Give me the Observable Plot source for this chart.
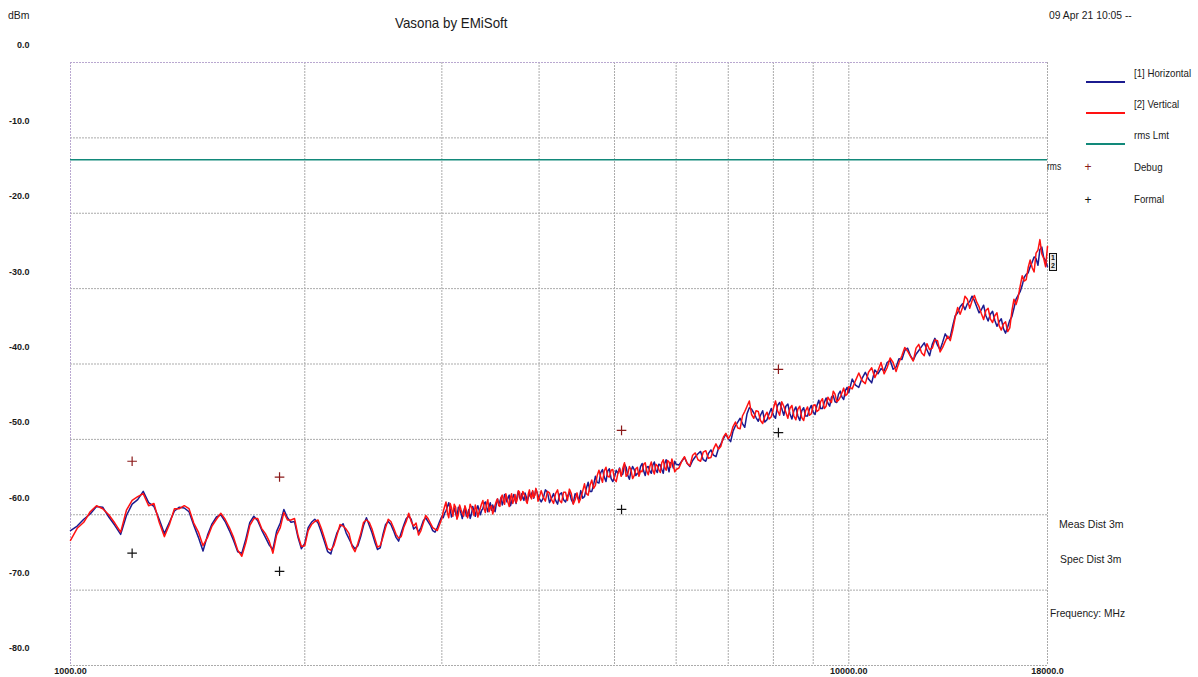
<!DOCTYPE html>
<html>
<head>
<meta charset="utf-8">
<script src="https://cdn.jsdelivr.net/npm/d3@7"></script>
<script src="https://cdn.jsdelivr.net/npm/@observablehq/plot@0.6"></script>
<style>
  body { margin: 0; background: #fff; }
  #wrap {
    position: relative; width: 1198px; height: 677px; overflow: hidden;
    font-family: "Liberation Sans Narrow", "Arial Narrow", "Liberation Sans", Arial, sans-serif;
    color: #1a1a1a;
  }
  #wrap svg { position: absolute; left: 0; top: 0; }
  .t { position: absolute; white-space: nowrap; line-height: 1; transform-origin: 0 50%; }
  .key { position: absolute; height: 2px; width: 39px; left: 1086px; }
  .plus { position: absolute; font-size: 12px; line-height: 1; transform: translate(-50%, -50%); }
  .tag { position: absolute; left: 1049px; top: 253px; width: 6px; height: 16px; border: 1px solid #111;
         font-size: 7px; line-height: 8px; text-align: center; font-weight: bold; color: #111; background: #e8e8e8; }
</style>
</head>
<body>
<div id="wrap"></div>
<script>
// Sweep frequencies (MHz)
const freqMHz = [
  1000,1020,1040,1060,1080,1100,1120,1140,1160,1180,1200,1220,1240,1260,1280,1300,1320,1340,1360,1380,
  1400,1420,1440,1460,1480,1500,1520,1540,1560,1580,1600,1620,1640,1660,1680,1700,1720,1740,1760,1780,
  1800,1820,1840,1860,1880,1900,1920,1940,1960,1980,2000,
  2020,2040,2060,2080,2100,2120,2140,2160,2180,2200,2220,2240,2260,2280,2300,2320,2340,2360,2380,2400,
  2420,2440,2460,2480,2500,2520,2540,2560,2580,2600,2620,2640,2660,2680,2700,2720,2740,2760,2780,2800,
  2820,2840,2860,2880,2900,2920,2940,2960,2980,3000,
  3012,3025,3037,3050,3062,3075,3087,3100,3112,3125,3137,3150,3162,3175,3187,3200,3212,3225,3237,3250,
  3262,3275,3287,3300,3312,3325,3337,3350,3362,3375,3387,3400,3412,3425,3437,3450,3462,3475,3487,3500,
  3512,3525,3537,3550,3562,3575,3587,3600,3612,3625,3637,3650,3662,3675,3687,3700,3712,3725,3737,3750,
  3762,3775,3787,3800,3812,3825,3837,3850,3862,3875,3887,3900,3912,3925,3937,3950,3962,3975,3987,4000,
  4025,4050,4075,4100,4125,4150,4175,4200,4225,4250,4275,4300,4325,4350,4375,4400,4425,4450,4475,4500,
  4525,4550,4575,4600,4625,4650,4675,4700,4725,4750,4775,4800,4825,4850,4875,4900,4925,4950,4975,5000,
  5025,5050,5075,5100,5125,5150,5175,5200,5225,5250,5275,5300,5325,5350,5375,5400,5425,5450,5475,5500,
  5525,5550,5575,5600,5625,5650,5675,5700,5725,5750,5775,5800,5825,5850,5875,5900,5925,5950,5975,6000,
  6050,6100,6150,6200,6250,6300,6350,6400,6450,6500,6550,6600,6650,6700,6750,6800,6850,6900,6950,7000,
  7050,7100,7150,7200,7250,7300,7350,7400,7450,7500,7550,7600,7650,7700,7750,7800,7850,7900,7950,8000,
  8050,8100,8150,8200,8250,8300,8350,8400,8450,8500,8550,8600,8650,8700,8750,8800,8850,8900,8950,9000,
  9050,9100,9150,9200,9250,9300,9350,9400,9450,9500,9550,9600,9650,9700,9750,9800,9850,9900,9950,10000,
  10100,10200,10300,10400,10500,10600,10700,10800,10900,11000,11100,11200,11300,11400,11500,11600,11700,11800,11900,12000,
  12100,12200,12300,12400,12500,12600,12700,12800,12900,13000,13100,13200,13300,13400,13500,13600,13700,13800,13900,14000,
  14100,14200,14300,14400,14500,14600,14700,14800,14900,15000,15100,15200,15300,15400,15500,15600,15700,15800,15900,16000,
  16100,16200,16300,16400,16500,16600,16700,16800,16900,17000,17100,17200,17300,17400,17500,17600,17700,17800,17900,18000
];

// [1] Horizontal polarisation (dBm)
const horizontal = [
  -62.1,-61.5,-60.6,-59.9,-58.9,-59.0,-60.3,-61.4,-62.6,-60.1,-58.6,-58.0,-56.9,-58.4,-58.9,-60.6,-62.5,-61.0,-59.5,-59.0,
  -59.1,-59.6,-61.4,-63.0,-64.8,-62.7,-61.2,-60.3,-60.0,-60.9,-62.1,-63.4,-64.9,-65.1,-63.2,-61.0,-60.2,-60.8,-62.0,-63.0,
  -64.0,-64.6,-62.2,-61.1,-59.3,-60.4,-61.0,-60.9,-63.0,-64.5,-63.8,
  -61.7,-61.0,-60.6,-61.1,-62.3,-63.6,-64.9,-65.2,-63.7,-62.4,-61.6,-61.2,-62.4,-63.2,-64.0,-64.5,-64.1,-62.9,-61.4,-60.4,
  -61.4,-62.4,-63.6,-64.6,-64.4,-62.6,-61.3,-60.9,-61.3,-62.1,-63.0,-63.5,-62.4,-61.4,-60.5,-60.2,-60.6,-61.9,-61.6,-62.3,
  -61.7,-60.8,-60.4,-60.9,-61.4,-62.1,-62.3,-61.7,-60.9,-60.2,
  -60.4,-59.8,-59.5,-58.9,-58.4,-59.3,-60.3,-59.8,-59.1,-59.8,-60.4,-59.0,-59.2,-59.8,-60.5,-59.5,-59.0,-60.2,-59.9,-59.3,
  -60.5,-59.9,-58.9,-59.5,-60.2,-59.3,-58.8,-59.4,-60.0,-59.4,-59.2,-58.5,-58.3,-59.0,-59.6,-58.9,-58.4,-59.4,-58.7,-59.3,
  -59.6,-58.5,-57.9,-58.6,-58.2,-57.7,-58.7,-58.2,-57.3,-57.6,-58.3,-57.7,-57.4,-58.8,-58.3,-57.7,-57.3,-58.0,-58.5,-57.4,
  -56.9,-57.7,-58.0,-57.2,-57.8,-58.1,-57.1,-57.6,-58.3,-57.7,-57.1,-57.6,-57.2,-56.9,-57.8,-57.3,-56.6,-57.0,-57.4,-57.8,
  -58.3,-57.8,-56.7,-57.0,-58.4,-57.8,-57.2,-58.1,-58.6,-57.3,-57.1,-58.0,-58.3,-57.6,-57.0,-58.0,-58.5,-57.2,-57.5,-58.1,
  -56.8,-57.8,-57.6,-56.5,-55.7,-56.9,-56.9,-56.0,-54.9,-55.7,-55.8,-54.4,-54.0,-55.0,-55.6,-54.2,-53.9,-55.2,-55.6,-55.0,
  -54.1,-54.5,-53.8,-54.8,-54.6,-53.3,-53.7,-54.8,-55.3,-54.2,-53.6,-54.0,-54.8,-54.5,-54.6,-53.6,-53.2,-54.2,-54.8,-53.7,
  -53.6,-54.2,-54.5,-53.4,-53.0,-54.1,-54.4,-53.3,-53.4,-54.0,-54.5,-53.2,-52.7,-53.6,-54.3,-53.1,-53.1,-53.8,-52.9,-53.3,
  -53.4,-52.9,-52.4,-53.2,-53.6,-52.8,-52.3,-51.9,-51.6,-52.7,-52.9,-51.9,-51.4,-52.1,-52.3,-51.2,-50.6,-49.9,-49.3,-49.9,
  -50.3,-48.9,-48.2,-47.7,-47.2,-47.9,-48.4,-46.6,-45.8,-46.0,-46.5,-47.1,-47.6,-46.8,-46.2,-47.7,-47.4,-46.6,-45.9,-46.8,
  -47.2,-45.5,-45.1,-45.9,-46.8,-45.6,-45.3,-46.6,-47.3,-46.2,-45.7,-46.9,-47.5,-46.2,-45.8,-46.9,-46.9,-46.0,-45.5,-46.4,
  -46.7,-45.5,-44.8,-45.9,-45.9,-45.1,-44.5,-45.2,-45.6,-44.4,-44.2,-45.0,-45.1,-44.0,-43.6,-44.4,-44.7,-43.5,-43.1,-43.8,
  -42.0,-42.8,-43.1,-41.9,-41.1,-42.0,-42.5,-40.8,-41.3,-40.6,-40.9,-39.8,-39.5,-40.7,-40.4,-39.3,-39.4,-38.2,-37.9,-38.9,
  -39.5,-38.7,-38.2,-37.7,-37.2,-38.1,-38.9,-37.4,-36.6,-37.5,-38.1,-37.1,-36.0,-36.6,-36.4,-34.9,-33.6,-33.2,-32.4,-32.0,
  -32.8,-32.0,-31.7,-31.0,-31.6,-32.4,-33.2,-32.8,-32.2,-33.6,-34.3,-33.4,-33.0,-34.2,-35.0,-34.4,-34.0,-35.3,-35.9,-35.1,
  -34.2,-33.7,-32.6,-31.4,-30.9,-30.4,-29.6,-28.5,-28.1,-27.9,-27.1,-26.5,-25.8,-26.0,-26.9,-24.8,-24.5,-25.9,-26.3,-27.1
];

// [2] Vertical polarisation (dBm)
const vertical = [
  -63.4,-61.8,-61.0,-59.6,-58.8,-59.2,-60.0,-61.1,-62.3,-59.4,-58.1,-57.6,-57.2,-58.8,-58.5,-61.0,-62.9,-61.3,-59.2,-59.2,
  -58.8,-59.2,-61.1,-62.3,-64.1,-63.0,-61.5,-60.6,-59.8,-60.6,-61.7,-63.0,-64.7,-65.5,-63.7,-61.4,-60.5,-60.5,-61.8,-62.5,
  -63.5,-65.1,-62.7,-61.7,-59.7,-60.7,-60.7,-60.5,-62.7,-64.2,-64.1,
  -62.1,-61.3,-60.9,-60.7,-61.8,-63.1,-64.5,-64.7,-64.1,-62.7,-61.3,-61.5,-61.9,-62.5,-64.2,-64.9,-63.8,-62.5,-61.0,-60.7,
  -61.0,-61.9,-63.1,-64.3,-64.1,-63.0,-61.7,-60.6,-60.9,-61.7,-62.6,-63.1,-62.9,-61.7,-60.9,-59.8,-60.9,-61.5,-61.1,-62.7,
  -62.1,-61.1,-60.1,-60.5,-61.1,-61.7,-61.9,-62.1,-61.3,-60.5,
  -59.6,-58.9,-58.3,-59.8,-60.4,-58.5,-59.1,-60.2,-58.6,-59.0,-60.6,-60.0,-58.7,-59.3,-59.8,-60.2,-58.8,-59.4,-60.4,-59.8,
  -58.6,-59.0,-59.4,-60.1,-58.7,-59.3,-60.3,-59.6,-59.1,-58.5,-58.1,-59.2,-59.7,-58.5,-58.0,-59.6,-59.1,-58.8,-59.9,-59.3,
  -58.7,-58.2,-57.9,-58.8,-58.9,-57.7,-57.4,-58.1,-58.6,-57.2,-57.8,-58.4,-58.9,-57.7,-57.2,-58.5,-58.0,-57.3,-58.4,-57.9,
  -56.8,-57.0,-58.1,-57.7,-56.9,-57.3,-57.5,-58.2,-58.5,-57.2,-56.7,-57.6,-57.9,-56.8,-57.7,-57.4,-56.5,-57.0,-58.2,-57.8,
  -56.8,-57.7,-58.2,-56.9,-57.1,-58.0,-58.5,-57.2,-56.7,-58.1,-58.4,-57.0,-57.0,-58.1,-56.6,-57.2,-58.6,-58.0,-57.1,-58.4,
  -57.8,-56.9,-55.9,-57.2,-57.4,-56.1,-55.4,-56.5,-56.1,-54.8,-54.1,-55.0,-55.7,-54.2,-53.7,-54.9,-55.0,-54.1,-54.0,-55.3,
  -55.6,-54.5,-53.9,-54.9,-53.8,-53.1,-54.9,-54.6,-53.6,-54.0,-55.2,-54.8,-53.9,-53.7,-54.9,-54.2,-54.3,-53.3,-53.1,-54.2,
  -54.7,-53.6,-53.0,-54.1,-54.6,-53.3,-53.5,-54.0,-54.4,-53.1,-52.7,-53.7,-54.1,-52.8,-53.0,-53.7,-52.6,-53.3,-54.3,-54.0,
  -53.8,-52.9,-52.3,-53.2,-53.5,-52.1,-51.8,-52.7,-52.9,-51.7,-51.5,-52.5,-52.4,-51.3,-50.6,-51.3,-50.9,-49.7,-49.2,-49.9,
  -49.4,-48.3,-47.7,-48.5,-48.6,-46.9,-46.3,-45.6,-44.9,-46.7,-47.2,-46.2,-46.3,-47.5,-47.9,-46.9,-46.4,-47.3,-47.0,-45.9,
  -44.9,-46.2,-46.8,-45.0,-45.6,-46.4,-47.2,-45.9,-45.5,-46.9,-47.4,-46.0,-45.6,-47.1,-47.5,-46.2,-45.7,-46.8,-46.6,-45.5,
  -45.4,-46.3,-46.1,-45.0,-44.6,-45.9,-45.6,-44.4,-44.8,-45.1,-43.6,-44.0,-45.0,-44.8,-44.4,-43.8,-43.2,-44.2,-44.0,-43.0,
  -43.3,-42.2,-41.2,-42.2,-42.6,-41.1,-40.5,-41.8,-40.9,-39.8,-41.3,-40.5,-39.2,-39.8,-41.0,-39.8,-38.9,-37.8,-38.3,-39.0,
  -39.6,-37.9,-37.4,-38.5,-38.9,-37.3,-38.1,-37.9,-36.8,-36.9,-38.4,-37.8,-37.0,-36.3,-36.9,-35.5,-33.8,-32.5,-33.4,-32.5,
  -31.0,-31.4,-32.6,-31.6,-30.9,-31.8,-32.4,-33.3,-34.1,-32.9,-32.6,-34.0,-34.5,-33.6,-33.2,-34.9,-35.5,-34.7,-34.4,-35.7,
  -35.2,-33.0,-31.4,-32.1,-31.2,-29.7,-28.3,-29.0,-28.8,-27.2,-26.2,-27.2,-27.8,-25.3,-24.9,-23.5,-25.4,-26.0,-27.1,-24.4
];

// rms limit line (dBm)
const rmsLimit = -12.9;

// Peak markers: debug and formal readings at the same frequencies
const markerMHz = [1200, 1856, 5105, 8120];
const debugDbm = [-52.9, -55.0, -48.8, -40.7];
const formalDbm = [-65.1, -67.5, -59.3, -49.1];

// Axis ticks and grid
const yTicks = [0, -10, -20, -30, -40, -50, -60, -70, -80];
const xGrid = [1000, 2000, 3000, 4000, 5000, 6000, 7000, 8000, 9000, 10000, 18000];
const xLabelValues = [1000, 10000, 18000];
const xLabelText = ["1000.00", "10000.00", "18000.0"];

const trace = freqMHz.map((f, i) => ({f, h: horizontal[i], v: vertical[i]}));
const debugPts = markerMHz.map((f, i) => ({f, y: debugDbm[i]}));
const formalPts = markerMHz.map((f, i) => ({f, y: formalDbm[i]}));

const gridStyle = {stroke: "#ababab", strokeOpacity: 1, strokeDasharray: "2,1", strokeWidth: 1};

const chart = Plot.plot({
  width: 1198,
  height: 677,
  marginLeft: 70,
  marginRight: 151,
  marginTop: 62,
  marginBottom: 12,
  x: {type: "log", domain: [1000, 18000]},
  y: {domain: [-80, 0]},
  style: {background: "transparent", fontFamily: "'Liberation Sans Narrow', 'Liberation Sans', Arial, sans-serif", color: "#1a1a1a"},
  marks: [
    Plot.gridY(yTicks.filter(d => d !== 0), gridStyle),
    Plot.gridX(xGrid.filter(d => d !== 1000), gridStyle),
    Plot.ruleY([0], {stroke: "#b9a8d0", strokeDasharray: "2,1"}),
    Plot.ruleX([1000], {stroke: "#b9a8d0", strokeDasharray: "2,1"}),
    Plot.axisY(yTicks, {tickSize: 0, tickPadding: 41, dy: -17, tickFormat: d => d.toFixed(1), fontSize: 9, fontWeight: "bold", label: null}),
    Plot.axisX(xLabelValues, {tickSize: 0, tickPadding: 2, tickFormat: d => xLabelText[xLabelValues.indexOf(d)], fontSize: 9, fontWeight: "bold", label: null}),
    Plot.ruleY([rmsLimit], {stroke: "#12897a", strokeWidth: 1.6}),
    Plot.line(trace, {x: "f", y: "h", stroke: "#1b1b8f", strokeWidth: 1.5}),
    Plot.line(trace, {x: "f", y: "v", stroke: "#ff1212", strokeWidth: 1.5}),
    Plot.dot(debugPts, {x: "f", y: "y", symbol: "plus", r: 3.2, stroke: "#8b1a1a", strokeWidth: 1.2}),
    Plot.dot(formalPts, {x: "f", y: "y", symbol: "plus", r: 3.2, stroke: "#111", strokeWidth: 1.2})
  ]
});

const wrap = document.getElementById("wrap");
wrap.appendChild(chart);

// Header, legend and notes around the plot
const labels = [
  {text: "dBm", x: 8, y: 15, size: 11, sx: 0.95},
  {text: "Vasona by EMiSoft", x: 395, y: 22, size: 15, sx: 0.89},
  {text: "09 Apr 21 10:05 --", x: 1049, y: 15, size: 11, sx: 0.94},
  {text: "[1] Horizontal", x: 1134, y: 73, size: 11, sx: 0.88},
  {text: "[2] Vertical", x: 1134, y: 104, size: 11, sx: 0.88},
  {text: "rms Lmt", x: 1134, y: 135, size: 11, sx: 0.88},
  {text: "Debug", x: 1134, y: 167, size: 11, sx: 0.88},
  {text: "Formal", x: 1134, y: 199, size: 11, sx: 0.88},
  {text: "rms", x: 1047, y: 167, size: 10, sx: 0.85},
  {text: "Meas Dist 3m", x: 1059, y: 524, size: 11, sx: 0.96},
  {text: "Spec Dist 3m", x: 1060, y: 559, size: 11, sx: 0.94},
  {text: "Frequency: MHz", x: 1050, y: 613, size: 11, sx: 0.93}
];
for (const l of labels) {
  const d = document.createElement("div");
  d.className = "t";
  d.textContent = l.text;
  d.style.left = l.x + "px";
  d.style.top = l.y + "px";
  d.style.fontSize = l.size + "px";
  d.style.transform = `translateY(-50%) scaleX(${l.sx})`;
  wrap.appendChild(d);
}
const keys = [{y: 81, c: "#1b1b8f"}, {y: 112, c: "#ff1212"}, {y: 143, c: "#12897a"}];
for (const k of keys) {
  const d = document.createElement("div");
  d.className = "key";
  d.style.top = k.y + "px";
  d.style.background = k.c;
  wrap.appendChild(d);
}
const pluses = [{y: 167, c: "#8b1a1a"}, {y: 200, c: "#111"}];
for (const p of pluses) {
  const d = document.createElement("div");
  d.className = "plus";
  d.textContent = "+";
  d.style.left = "1088px";
  d.style.top = p.y + "px";
  d.style.color = p.c;
  wrap.appendChild(d);
}
// Trace end tags
const tag = document.createElement("div");
tag.className = "tag";
tag.innerHTML = "1<br>2";
wrap.appendChild(tag);
</script>
</body>
</html>
